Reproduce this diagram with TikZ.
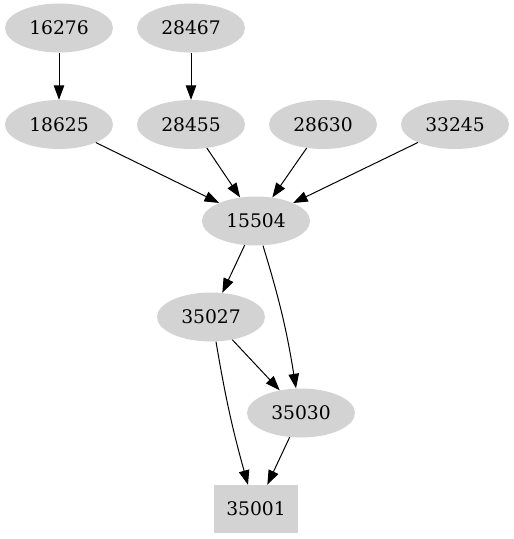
\documentclass[tikz,border=0pt]{standalone}
\usepackage{fontspec}
\setmainfont{DejaVu Serif}
\usetikzlibrary{shapes.geometric,arrows.meta}
\definecolor{nodegray}{HTML}{D3D3D3}
\tikzset{
  ell/.style={ellipse, fill=nodegray, draw=none, minimum width=108pt, minimum height=49pt, inner sep=0pt, font=\fontsize{18.7}{22}\selectfont},
  boxnode/.style={rectangle, fill=nodegray, draw=none, minimum width=84pt, minimum height=48pt, inner sep=0pt, font=\fontsize{18.7}{22}\selectfont},
  edge/.style={draw=black, line width=1pt, -{Triangle[length=14.5pt,width=10.5pt]}}
}
\begin{document}
\begin{tikzpicture}[x=1pt,y=-1pt]
\useasboundingbox (0,0) rectangle (514,539);
\node[ell] (n16276) at (59,28) {16276};
\node[ell] (n28467) at (191,28) {28467};
\node[ell] (n18625) at (59,124.5) {18625};
\node[ell] (n28455) at (191,124.5) {28455};
\node[ell] (n28630) at (323,124.5) {28630};
\node[ell] (n33245) at (455,124.5) {33245};
\node[ell] (n15504) at (256,221) {15504};
\node[ell] (n35027) at (211,317) {35027};
\node[ell] (n35030) at (301,413) {35030};
\node[boxnode] (n35001) at (256,509) {35001};

\draw[edge] (n16276) -- (n18625);
\draw[edge] (n28467) -- (n28455);
\draw[edge] (n18625) -- (n15504);
\draw[edge] (n28455) -- (n15504);
\draw[edge] (n28630) -- (n15504);
\draw[edge] (n33245) -- (n15504);
\draw[edge] (n15504) -- (n35027);
\draw[edge] ([xshift=7pt]n15504.south) to[bend left=4] ([xshift=-5pt]n35030.north);
\draw[edge] (n35027) -- (n35030);
\draw[edge] ([xshift=5pt]n35027.south) to[bend right=3] ([xshift=-8pt]n35001.north);
\draw[edge] (n35030) -- (n35001);
\end{tikzpicture}
\end{document}
